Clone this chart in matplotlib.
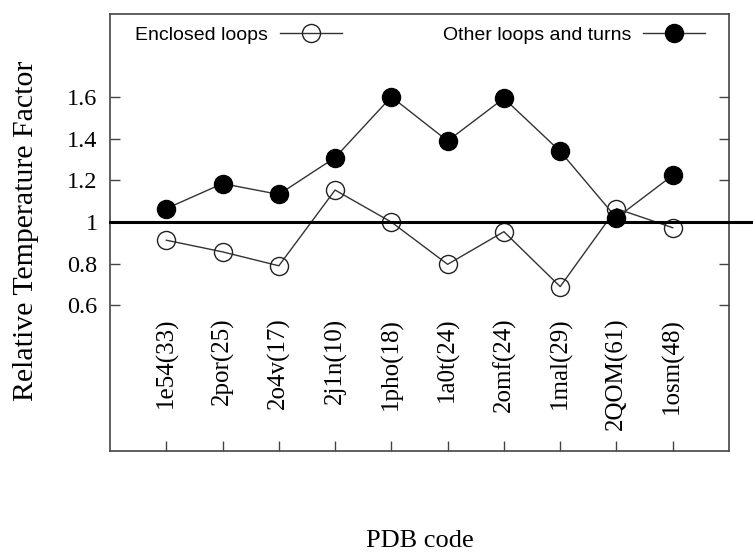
import matplotlib
matplotlib.use("Agg")
import matplotlib.pyplot as plt
from matplotlib.lines import Line2D

categories = ["1e54(33)", "2por(25)", "2o4v(17)", "2j1n(10)", "1pho(18)",
              "1a0t(24)", "2omf(24)", "1mal(29)", "2QOM(61)", "1osm(48)"]
enclosed = [0.913, 0.857, 0.790, 1.154, 1.000, 0.797, 0.954, 0.690, 1.065, 0.973]
other = [1.065, 1.185, 1.133, 1.310, 1.602, 1.390, 1.595, 1.340, 1.020, 1.225]
yticks = [0.6, 0.8, 1.0, 1.2, 1.4, 1.6]
ytick_labels = ["0.6", "0.8", "1", "1.2", "1.4", "1.6"]

serif = ["Liberation Serif", "DejaVu Serif"]
sans = ["Liberation Sans", "DejaVu Sans"]

fig = plt.figure(figsize=(7.53, 5.55), dpi=100)
ax = fig.add_axes([110/753, 1-451/555, 619/753, 437/555])

x = list(range(1, len(categories) + 1))
lc = "#333333"
ax.plot(x, enclosed, color=lc, lw=1.0, marker="o", ms=13, mfc="none",
        mec="#222222", mew=1.0, zorder=3)
ax.plot(x, other, color=lc, lw=1.0, marker="o", ms=13, mfc="black",
        mec="black", zorder=4)
ax.axhline(1.0, xmin=0, xmax=1.1, color="black", lw=2.2, clip_on=False, zorder=5)

ax.set_xlim(0, 11)
ax.set_ylim(-0.1, 2.0)
ax.set_xticks(x)
ax.set_xticklabels(categories, rotation=90, fontsize=18, family=serif)
ax.set_yticks(yticks)
ax.set_yticklabels(ytick_labels, fontsize=17.5, family=serif)
ax.tick_params(axis="x", direction="in", length=7, width=1, color="#444444",
               pad=-96, top=False)
ax.tick_params(axis="y", direction="in", length=7, width=1, color="#444444",
               pad=9, right=True)
for s in ax.spines.values():
    s.set_color("#444444")
    s.set_linewidth(1.2)

ax.set_ylabel("Relative Temperature Factor", fontsize=21.5, family=serif)
ax.yaxis.set_label_coords(-0.114, 0.503)
ax.set_xlabel("PDB code", fontsize=19, family=serif, va="baseline")
ax.xaxis.set_label_coords(0.5, -0.2197)

h1 = Line2D([], [], color=lc, lw=1.0, marker="o", ms=13, mfc="none", mec="#222222")
h2 = Line2D([], [], color=lc, lw=1.0, marker="o", ms=13, mfc="black", mec="black")
leg1 = ax.legend([h1], ["Enclosed loops"], loc="center left",
                 bbox_to_anchor=((135-110)/619, (451-35)/437), frameon=False,
                 markerfirst=False, handlelength=3.2, handletextpad=0.6,
                 borderpad=0, borderaxespad=0, prop={"family": sans, "size": 14})
ax.add_artist(leg1)
ax.legend([h2], ["Other loops and turns"], loc="center right",
          bbox_to_anchor=((705-110)/619, (451-35)/437), frameon=False,
          markerfirst=False, handlelength=3.2, handletextpad=0.6,
          borderpad=0, borderaxespad=0, prop={"family": sans, "size": 14})

fig.savefig("out.png", dpi=100)
